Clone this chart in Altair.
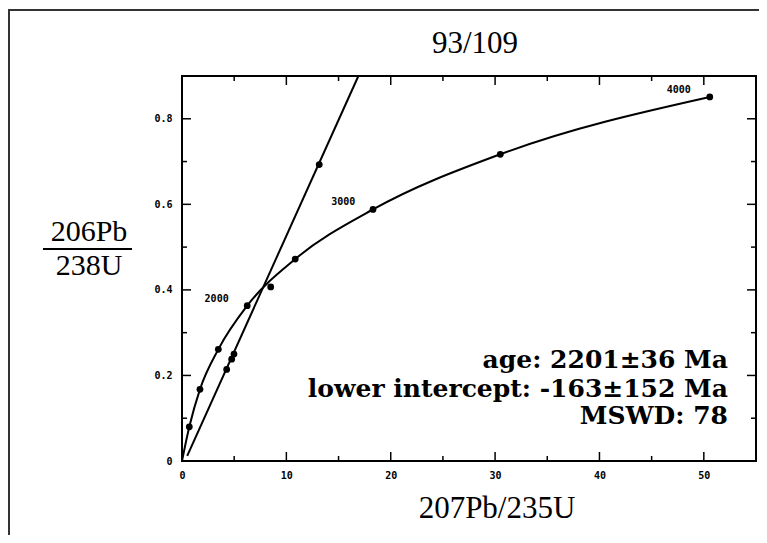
import altair as alt
import pandas as pd

# ---- data ----
conc_x = [0.0, 0.70, 1.72, 3.48, 6.25, 10.85, 18.3, 30.5, 50.57]
conc_y = [0.0, 0.080, 0.1675, 0.261, 0.363, 0.472, 0.588, 0.717, 0.851]
disc_x = [0.5, 16.9]
disc_y = [0.012, 0.9]
sample_x = [4.28, 4.76, 4.98, 8.5, 13.15]
sample_y = [0.214, 0.238, 0.25, 0.407, 0.693]
age_labels = ["2000", "3000", "4000"]
age_label_x = [3.32, 15.45, 47.6]
age_label_y = [0.378, 0.606, 0.867]
x_major = [10, 20, 30, 40, 50]
x_minor = [5, 15, 25, 35, 45]
y_major = [0.2, 0.4, 0.6, 0.8]
y_minor = [0.1, 0.3, 0.5, 0.7]
x_labels = [0, 10, 20, 30, 40, 50]
y_labels = [0, 0.2, 0.4, 0.6, 0.8]
stats = ["age: 2201±36 Ma", "lower intercept: -163±152 Ma", "MSWD: 78"]

W, H = 574, 385
XD, YD = [0, 55], [0, 0.9]
MONO = "DejaVu Sans Mono"
SERIF = "Liberation Serif"

xs = alt.Scale(domain=XD, nice=False, zero=False)
ys = alt.Scale(domain=YD, nice=False, zero=False)

conc = pd.DataFrame({"x": conc_x, "y": conc_y})
disc = pd.DataFrame({"x": disc_x, "y": disc_y})
samp = pd.DataFrame({"x": sample_x, "y": sample_y})
ages = pd.DataFrame({"x": age_label_x, "y": age_label_y, "t": age_labels})

xaxis = alt.Axis(values=x_labels, ticks=False, domain=False, grid=False, title=None,
                 labelFont=MONO, labelFontSize=10, labelFontWeight="bold",
                 labelPadding=9, labelFlush=False, labelOverlap=False, labelColor="black")
yaxis = alt.Axis(values=y_labels, ticks=False, domain=False, grid=False, title=None,
                 labelFont=MONO, labelFontSize=10, labelFontWeight="bold",
                 labelPadding=10, labelFlush=False, labelOverlap=False, labelColor="black",
                 labelExpr="datum.value == 0 ? '0' : format(datum.value, '.1f')")

curve = alt.Chart(conc).mark_line(color="black", strokeWidth=2, interpolate="monotone").encode(
    x=alt.X("x:Q", scale=xs, axis=xaxis), y=alt.Y("y:Q", scale=ys, axis=yaxis))
conc_pts = alt.Chart(conc[conc.x > 0]).mark_circle(color="black", size=46, opacity=1).encode(
    x=alt.X("x:Q", scale=xs), y=alt.Y("y:Q", scale=ys))
dline = alt.Chart(disc).mark_line(color="black", strokeWidth=2).encode(
    x=alt.X("x:Q", scale=xs), y=alt.Y("y:Q", scale=ys))
spts = alt.Chart(samp).mark_circle(color="black", size=46, opacity=1).encode(
    x=alt.X("x:Q", scale=xs), y=alt.Y("y:Q", scale=ys))
age_txt = alt.Chart(ages).mark_text(font=MONO, fontSize=10, fontWeight="bold", color="black").encode(
    x=alt.X("x:Q", scale=xs), y=alt.Y("y:Q", scale=ys), text="t:N")


def xticks(vals, length):
    d = pd.DataFrame({"t": vals})
    b = alt.Chart(d).mark_rule(color="black", strokeWidth=1.5).encode(
        x=alt.X("t:Q", scale=xs), y=alt.value(H), y2=alt.value(H - length))
    t = alt.Chart(d).mark_rule(color="black", strokeWidth=1.5).encode(
        x=alt.X("t:Q", scale=xs), y=alt.value(0), y2=alt.value(length))
    return [b, t]


def yticks(vals, length):
    d = pd.DataFrame({"t": vals})
    l = alt.Chart(d).mark_rule(color="black", strokeWidth=1.5).encode(
        y=alt.Y("t:Q", scale=ys), x=alt.value(0), x2=alt.value(length))
    r = alt.Chart(d).mark_rule(color="black", strokeWidth=1.5).encode(
        y=alt.Y("t:Q", scale=ys), x=alt.value(W), x2=alt.value(W - length))
    return [l, r]


ticks = xticks(x_major, 9) + xticks(x_minor, 5) + yticks(y_major, 9) + yticks(y_minor, 5)


def label(text, x, y, font=SERIF, size=31, weight="normal", align="center", baseline="alphabetic"):
    return alt.Chart(pd.DataFrame({"t": [text]})).mark_text(
        font=font, fontSize=size, fontWeight=weight, align=align, baseline=baseline,
        color="black").encode(x=alt.value(x), y=alt.value(y), text="t:N")


frame = alt.Chart(pd.DataFrame({"t": [0]})).mark_rect(
    fill="transparent", stroke="#333333", strokeWidth=2).encode(
    x=alt.value(-173), x2=alt.value(W + 40), y=alt.value(-66), y2=alt.value(H + 120))
frac = alt.Chart(pd.DataFrame({"t": [0]})).mark_rule(color="black", strokeWidth=2).encode(
    x=alt.value(-139), x2=alt.value(-50), y=alt.value(173))

texts = [
    label("93/109", 293, -23),
    label("207Pb/235U", 315, 442),
    label("206Pb", -93, 172, baseline="line-bottom", size=30),
    label("238U", -93, 175, baseline="top", size=30),
    label(stats[0], 546, 292, font="DejaVu Serif", size=25, weight="bold", align="right"),
    label(stats[1], 546, 321, font="DejaVu Serif", size=25, weight="bold", align="right"),
    label(stats[2], 546, 348, font="DejaVu Serif", size=25, weight="bold", align="right"),
]

chart = alt.layer(frame, frac, curve, dline, conc_pts, spts, age_txt, *ticks, *texts).properties(
    width=W, height=H,
    autosize=alt.AutoSizeParams(type="none"),
    padding={"left": 174, "top": 68, "right": 3, "bottom": 74},
    background="white",
).configure_view(stroke="black", strokeWidth=2)

chart.save("out.html", embed_options={"renderer": "svg", "actions": False})
